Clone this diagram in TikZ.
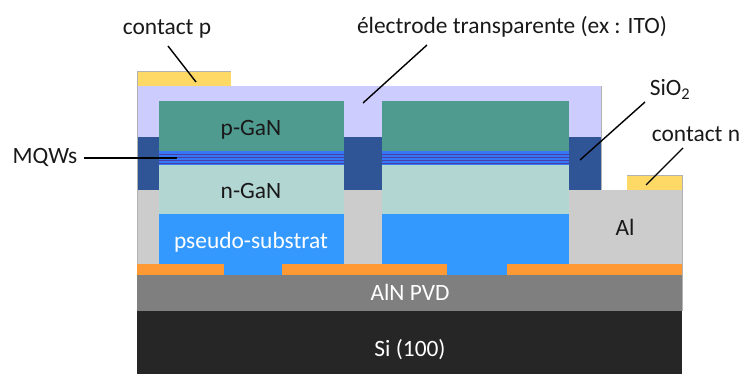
\documentclass[tikz,border=0pt]{standalone}
\usepackage{fontspec}
\setmainfont{Carlito}
\tikzset{
  lbl/.style={inner sep=0pt,anchor=base,font=\fontsize{23.4}{27}\selectfont,text=black!90},
  leader/.style={draw=black,line width=1.4pt},
  edge/.style={draw=black!30,line width=.6pt}
}
\definecolor{ito}{HTML}{CCCCFF}
\definecolor{gold}{HTML}{FFD966}
\definecolor{pgan}{HTML}{509B90}
\definecolor{ngan}{HTML}{B2D6D2}
\definecolor{sio}{HTML}{2F5597}
\definecolor{alu}{HTML}{CCCCCC}
\definecolor{psub}{HTML}{3399FF}
\definecolor{oran}{HTML}{FF9933}
\definecolor{aln}{HTML}{7F7F7F}
\definecolor{sii}{HTML}{262626}
\definecolor{qwa}{HTML}{3677F5}
\definecolor{qwb}{HTML}{4A3FA8}
\begin{document}
\begin{tikzpicture}[x=1pt,y=-1pt]
\useasboundingbox (0,0) rectangle (742,374);
% layers
\fill[sii] (137,311) rectangle (682,374);
\fill[aln] (137,275) rectangle (682,311);
\fill[alu] (137,190) rectangle (682,264);
\fill[ito] (137,86) rectangle (601.5,137);
\fill[gold] (137,71) rectangle (231,86);
\fill[gold] (627,175) rectangle (682,190);
\fill[sio] (137,137) rectangle (601.5,190);
\draw[edge] (137,264) -- (137,71) -- (231,71);
\draw[edge] (601.5,86) -- (601.5,190);
\draw[edge] (627,175) -- (682,175) -- (682,311);
\foreach \xa/\xb in {158.5/344,381.5/569}{
  \fill[pgan] (\xa,101.5) rectangle (\xb,151);
  \fill[qwa] (\xa,151) rectangle (\xb,165);
  \foreach \yy in {154,157,160,163}
    \fill[qwb] (\xa,\yy) rectangle (\xb,\yy+0.8);
  \fill[ngan] (\xa,165) rectangle (\xb,214);
  \fill[psub] (\xa,214) rectangle (\xb,264);
}
\fill[oran] (137,264) rectangle (224,275);
\fill[oran] (282,264) rectangle (447,275);
\fill[oran] (507,264) rectangle (682,275);
\fill[psub] (224,264) rectangle (282,275);
\fill[psub] (447,264) rectangle (507,275);
% labels
\node[lbl] (cp) at (167,34.5) {contact p};
\node[lbl] (el) at (512,33.5) {électrode transparente (ex : ITO)};
\node[lbl] (mq) at (45,164) {MQWs};
\node[lbl] (si) at (670,96) {SiO\textsubscript{2}};
\node[lbl] (cn) at (696,141.5) {contact n};
\node[lbl] (pg) at (251,135.5) {p-GaN};
\node[lbl] (ng) at (251,198.5) {n-GaN};
\node[lbl,text=white] (ps) at (251,249) {pseudo-substrat};
\node[lbl] (al) at (625,235.5) {Al};
\node[lbl,text=white] (an) at (410,301) {AlN PVD};
\node[lbl,text=white] (sb) at (410,356) {Si (100)};
% leaders
\coordinate (cps) at (168,46);
\coordinate (cpe) at (196,82);
\coordinate (els) at (427,45);
\coordinate (ele) at (363,103);
\coordinate (mqs) at (84,158);
\coordinate (mqe) at (177,158);
\coordinate (sis) at (645,102);
\coordinate (sie) at (580,160);
\coordinate (cns) at (683,148);
\coordinate (cne) at (646,185);
\path[leader] (cps) -- (cpe);
\path[leader] (els) -- (ele);
\path[leader] (mqs) -- (mqe);
\path[leader] (sis) -- (sie);
\path[leader] (cns) -- (cne);
\end{tikzpicture}
\end{document}
